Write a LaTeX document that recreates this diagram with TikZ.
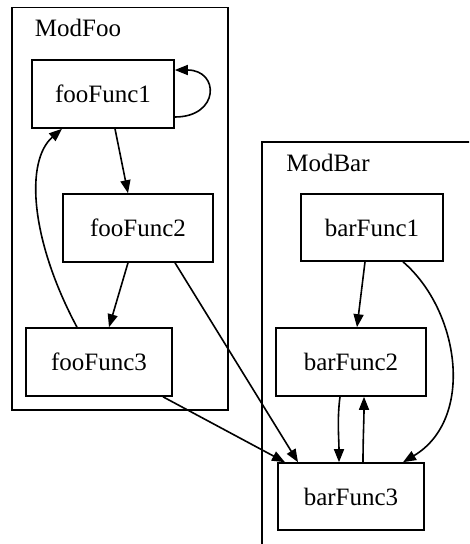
\documentclass[tikz,border=0pt]{standalone}
\usepackage{fontspec}
\setmainfont{Liberation Serif}
\usetikzlibrary{arrows.meta,positioning}

\begin{document}
\begin{tikzpicture}[
        x=1pt, y=-1pt,
        box/.style={
          draw,
          line width=1.6pt,
          minimum width=142pt,
          minimum height=68pt,
          inner sep=0pt,
          align=center,
          font=\fontsize{25}{30}\selectfont
        },
        cluster/.style={draw, line width=1.6pt},
        title/.style={font=\fontsize{25}{30}\selectfont},
        arr/.style={-{Triangle[length=13pt,width=10pt]}, line width=1.6pt}
      ]
      \useasboundingbox (0,0) rectangle (469,544);
      \clip (0,0) rectangle (469,544);

      % Clusters: ModFoo and ModBar
      \draw[cluster] (11.7,7.3) rectangle (228,410);
      \node[title] (modfoo) at (78,28) {ModFoo};
      \draw[cluster] (262,142) rectangle (490,570);
      \node[title] (modbar) at (328,163) {ModBar};

      % ModFoo: fooFunc1 -> fooFunc2 -> fooFunc3 -> fooFunc1
      \node[box] (foo1) at (103,94) {fooFunc1};
      \node[box,minimum width=150pt] (foo2) at (138,228) {fooFunc2};
      \node[box,minimum width=146pt] (foo3) at (99,362) {fooFunc3};
      \draw[arr] ([yshift=-23pt]foo1.east) .. controls +(45,0) and +(45,0) .. ([yshift=24pt]foo1.east);
      \draw[arr] ([xshift=12pt]foo1.south) -- ([xshift=-10pt]foo2.north);
      \draw[arr] ([xshift=-10pt]foo2.south) -- ([xshift=10pt]foo3.north);
      \draw[arr] ([xshift=-22pt]foo3.north) .. controls +(-47,-88) and +(-37,32) .. ([xshift=-41pt]foo1.south);

      % ModBar: barFunc1 -> barFunc2 <-> barFunc3
      \node[box,minimum height=67pt] (bar1) at (372,227.5) {barFunc1};
      \node[box,minimum width=150pt] (bar2) at (351,362) {barFunc2};
      \node[box,minimum width=146pt,minimum height=67pt] (bar3) at (351,496.5) {barFunc3};
      \draw[arr] ([xshift=-7pt]bar1.south) -- ([xshift=6pt]bar2.north);
      \draw[arr] ([xshift=-11pt]bar2.south) .. controls +(-3,22) and +(0,-22) .. ([xshift=-12pt]bar3.north);
      \draw[arr] ([xshift=12pt]bar3.north) .. controls +(0,-22) and +(0,22) .. ([xshift=13pt]bar2.south);
      \draw[arr] ([xshift=31pt]bar1.south) .. controls +(57,49) and +(72,-43) .. ([xshift=52pt]bar3.north);

      % Between the clusters
      \draw[arr] ([xshift=37pt]foo2.south) -- ([xshift=-53pt]bar3.north);
      \draw[arr] ([xshift=64pt]foo3.south) -- ([xshift=-66pt]bar3.north);
\end{tikzpicture}
\end{document}
